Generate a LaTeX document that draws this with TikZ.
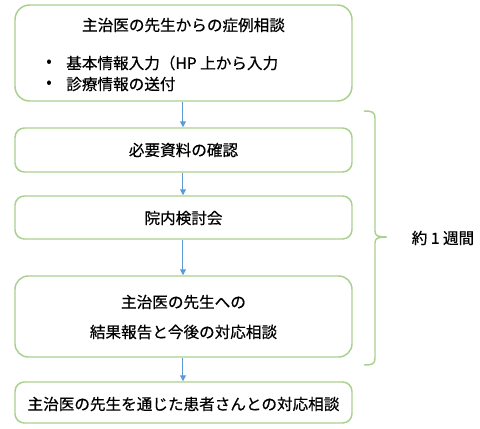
\documentclass[tikz,border=0pt]{standalone}
\usepackage{fontspec}
\setmainfont[FakeBold=0.5]{Noto Sans CJK JP}
\usetikzlibrary{arrows.meta}
\definecolor{boxgreen}{RGB}{169,208,142}
\definecolor{arrowblue}{RGB}{91,155,213}
\begin{document}
\begin{tikzpicture}[x=0.75pt,y=-0.75pt,
  stepbox/.style={draw=boxgreen,line width=1.1pt,fill=white,minimum width=252.75pt,inner sep=0pt},
  txt/.style={font=\fontsize{11.7}{14}\selectfont,inner sep=0pt},
  flow/.style={draw=arrowblue,line width=0.75pt,-{Triangle[length=4.5pt,width=4.5pt]}}]
\useasboundingbox (0,0) rectangle (480,429);
\node[stepbox,rounded corners=11pt,minimum height=72pt] (b1) at (183.5,53) {};
\node[stepbox,rounded corners=7pt,minimum height=33pt] (b2) at (183.5,150) {};
\node[stepbox,rounded corners=7pt,minimum height=32.25pt] (b3) at (183.5,217.5) {};
\node[stepbox,rounded corners=10pt,minimum height=60.75pt] (b4) at (183.5,316.5) {};
\node[stepbox,rounded corners=7pt,minimum height=30.75pt] (b5) at (183.5,402.5) {};
\node[txt] (t1) at (183.5,25) {主治医の先生からの症例相談};
\node[txt] (d1) at (49,63) {•};
\node[txt,anchor=west] (t2) at (66,63) {基本情報入力（HP 上から入力};
\node[txt] (d2) at (49,84) {•};
\node[txt,anchor=west] (t3) at (66,84) {診療情報の送付};
\node[txt] (t4) at (183.5,150) {必要資料の確認};
\node[txt] (t5) at (183.5,218) {院内検討会};
\node[txt] (t6) at (183.5,302) {主治医の先生への};
\node[txt] (t7) at (183.5,332) {結果報告と今後の対応相談};
\node[txt] (t8) at (183.5,404) {主治医の先生を通じた患者さんとの対応相談};
\node[txt] (lab) at (443,238) {約 1 週間};
\draw[flow] (b1.south -| 183,0) -- (b2.north -| 183,0);
\draw[flow] (b2.south -| 183,0) -- (b3.north -| 183,0);
\draw[flow] (b3.south -| 183,0) -- (b4.north -| 183,0);
\draw[flow] (b4.south -| 183,0) -- (b5.north -| 183,0);
\draw[boxgreen,line width=1.1pt] (364,111) .. controls (372,111) and (375,112) .. (375,118) -- (375,231)
  .. controls (375,236) and (378,237) .. (387,237) .. controls (378,237) and (375,238) .. (375,243)
  -- (375,358) .. controls (375,364) and (372,365) .. (364,365);
\end{tikzpicture}
\end{document}
